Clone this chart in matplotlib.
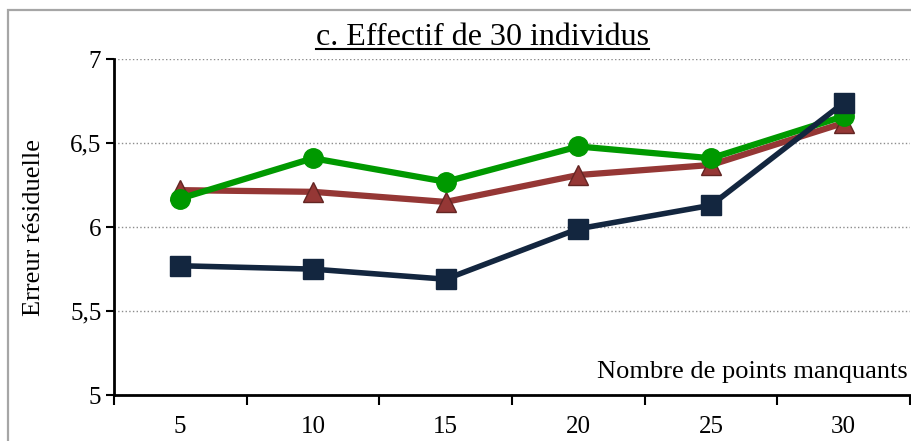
import matplotlib
matplotlib.use("Agg")
import matplotlib.pyplot as plt
from matplotlib.patches import Rectangle
from matplotlib.lines import Line2D
import numpy as np

plt.rcParams['font.family'] = ['Liberation Serif', 'DejaVu Serif']

categories = ['5', '10', '15', '20', '25', '30']
serie_bleue = [5.77, 5.75, 5.69, 5.99, 6.13, 6.74]
serie_rouge = [6.22, 6.21, 6.15, 6.31, 6.37, 6.62]
serie_verte = [6.17, 6.41, 6.27, 6.48, 6.41, 6.66]
y_ticks = [5, 5.5, 6, 6.5, 7]
y_labels = ['5', '5,5', '6', '6,5', '7']

fig = plt.figure(figsize=(9.11, 4.41), dpi=100)
ax = fig.add_axes([0.125, 0.104, 0.874, 0.762])

# cadre gris autour du graphique
fig.patches.append(Rectangle((0.009, -0.1), 1.1, 1.077, transform=fig.transFigure,
                             fill=False, edgecolor='#a6a6a6', linewidth=1.6))

x = np.arange(len(categories)) + 0.5

ax.plot(x, serie_rouge, color='#953735', linewidth=4.5, marker='^', markersize=14,
        markerfacecolor='#953735', markeredgecolor='#632523', markeredgewidth=1, zorder=3)
ax.plot(x, serie_verte, color='#009900', linewidth=4.5, marker='o', markersize=14,
        markerfacecolor='#009900', markeredgecolor='#009900', zorder=4)
ax.plot(x, serie_bleue, color='#13263f', linewidth=4, marker='s', markersize=14,
        markerfacecolor='#13263f', markeredgecolor='#13263f', zorder=5)

ax.set_xlim(0, len(categories))
ax.set_ylim(5, 7)
ax.set_yticks(y_ticks)
ax.set_yticklabels(y_labels, fontsize=18)
ax.set_xticks(np.arange(len(categories) + 1))
ax.set_xticklabels([''] * (len(categories) + 1))
ax.set_xticks(x, minor=True)
ax.set_xticklabels(categories, minor=True, fontsize=18)
ax.tick_params(axis='x', which='minor', length=0, pad=15)
ax.tick_params(axis='x', which='major', direction='out', length=7, width=1.5)
ax.tick_params(axis='y', direction='out', length=6, width=1.5, pad=3)

for s in ['top', 'right']:
    ax.spines[s].set_visible(False)
for s in ['left', 'bottom']:
    ax.spines[s].set_linewidth(2)

ax.yaxis.grid(True, linestyle=':', color='#8c8c8c', linewidth=1)
ax.set_axisbelow(True)

ax.set_ylabel('Erreur résiduelle', fontsize=19)
ax.yaxis.set_label_coords(-0.087, 0.5)

# titre souligné
titre = fig.text(0.530, 0.898, 'c. Effectif de 30 individus', ha='center',
                 va='baseline', fontsize=23)
fig.canvas.draw()
bb = titre.get_window_extent().transformed(fig.transFigure.inverted())
fig.lines.append(Line2D([bb.x0, bb.x1], [0.889, 0.889], transform=fig.transFigure,
                        color='black', linewidth=1.5))

ax.text(0.997, 0.068, 'Nombre de points manquants', transform=ax.transAxes,
        ha='right', va='center', fontsize=19)

fig.savefig('out.png', dpi=100)
